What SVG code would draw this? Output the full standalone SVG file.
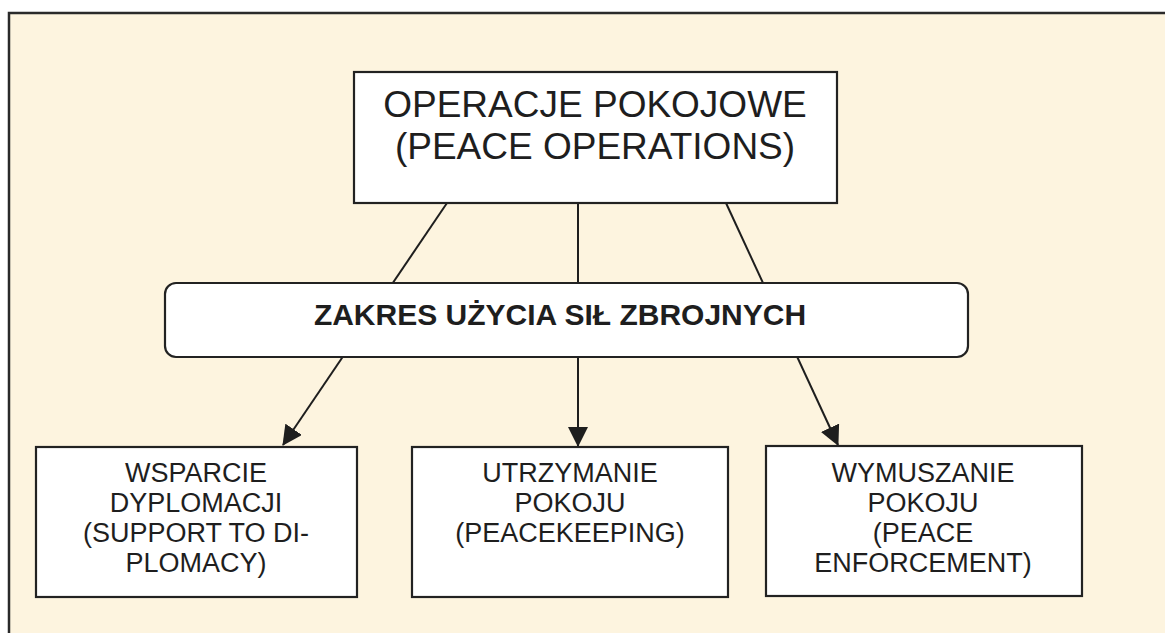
<svg xmlns="http://www.w3.org/2000/svg" width="1165" height="633" viewBox="0 0 1165 633">
<defs>
<style>
.bg{fill:#fdf4df;stroke:#2a2a2a;stroke-width:2.5}
.box{fill:#ffffff;stroke:#222;stroke-width:2.2}
.t{font-family:"Liberation Sans",Arial,sans-serif;fill:#1e1e1e;text-anchor:middle}
.big{font-size:37px}
.mid{font-size:30px;font-weight:bold}
.sm{font-size:27px}
.ln{stroke:#1e1e1e;stroke-width:2;fill:none}
</style>
<marker id="ah" viewBox="0 0 20 20" refX="19" refY="10" markerWidth="20" markerHeight="20" markerUnits="userSpaceOnUse" orient="auto">
<path d="M0,0 L20,10 L0,20 Z" fill="#1e1e1e"/>
</marker>
</defs>
<rect x="0" y="0" width="1165" height="633" fill="#ffffff"/>
<rect class="bg" x="9" y="13" width="1170" height="640"/>
<g id="connectors">
<line class="ln" x1="447" y1="203" x2="283" y2="445" marker-end="url(#ah)"/>
<line class="ln" x1="578" y1="203" x2="578" y2="446" marker-end="url(#ah)"/>
<line class="ln" x1="726" y1="203" x2="838" y2="445" marker-end="url(#ah)"/>
</g>
<g id="top">
<rect class="box" x="354" y="72" width="483" height="131"/>
<text class="t big" x="595" y="117">OPERACJE POKOJOWE</text>
<text class="t big" x="595" y="159">(PEACE OPERATIONS)</text>
</g>
<g id="scope">
<rect class="box" x="165" y="283" width="803" height="74" rx="11" ry="11"/>
<text class="t mid" x="560" y="325">ZAKRES UŻYCIA SIŁ ZBROJNYCH</text>
</g>
<g id="support">
<rect class="box" x="36" y="447" width="321" height="150"/>
<text class="t sm" x="196" y="482">WSPARCIE</text>
<text class="t sm" x="196" y="512">DYPLOMACJI</text>
<text class="t sm" x="196" y="542">(SUPPORT TO DI-</text>
<text class="t sm" x="196" y="572">PLOMACY)</text>
</g>
<g id="peacekeeping">
<rect class="box" x="412" y="447" width="316" height="150"/>
<text class="t sm" x="570" y="482">UTRZYMANIE</text>
<text class="t sm" x="570" y="512">POKOJU</text>
<text class="t sm" x="570" y="542">(PEACEKEEPING)</text>
</g>
<g id="enforcement">
<rect class="box" x="766" y="446" width="316" height="150"/>
<text class="t sm" x="923" y="482">WYMUSZANIE</text>
<text class="t sm" x="923" y="512">POKOJU</text>
<text class="t sm" x="923" y="542">(PEACE</text>
<text class="t sm" x="923" y="572">ENFORCEMENT)</text>
</g>
</svg>
